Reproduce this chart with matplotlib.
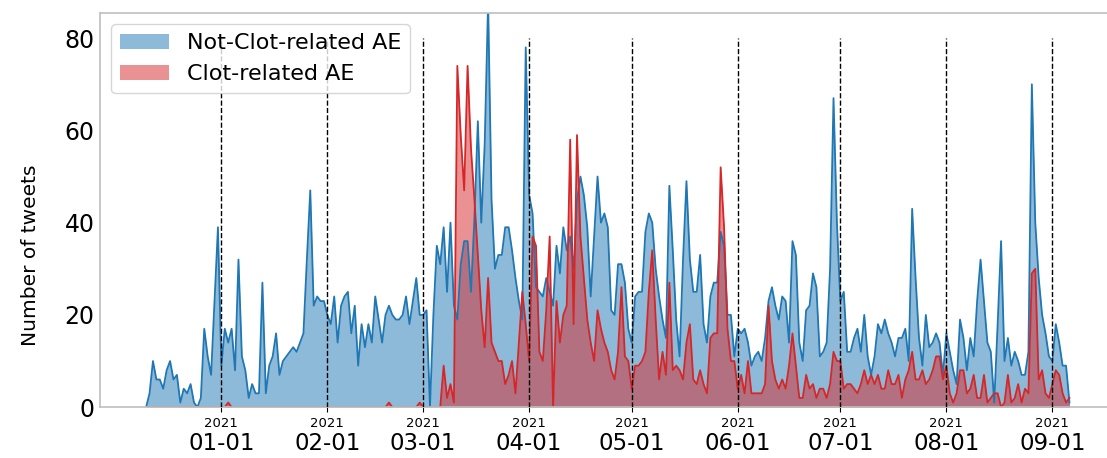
import numpy as np
import matplotlib
matplotlib.use('Agg')
import matplotlib.pyplot as plt
import matplotlib.dates as mdates
from matplotlib.patches import Patch

# daily counts, starting 2020-12-10
start_day = '2020-12-10'

not_clot = [0, 3, 10, 6, 6, 4, 8, 10, 6, 7,
            1, 4, 3, 5, 1, 0, 2, 17, 11, 7,
            23, 39, 9, 17, 14, 17, 8, 32, 11, 8,
            2, 5, 3, 3, 27, 3, 9, 11, 16, 7,
            10, 11, 12, 13, 12, 14, 16, 32, 47, 22,
            24, 23, 23, 20, 18, 24, 14, 22, 24, 25,
            16, 22, 9, 18, 13, 18, 14, 24, 19, 14,
            20, 22, 20, 19, 19, 20, 24, 18, 23, 28,
            20, 20, 21, 0, 20, 35, 31, 39, 25, 40,
            22, 19, 31, 36, 36, 25, 41, 62, 40, 57,
            88, 45, 30, 33, 33, 39, 39, 34, 28, 23,
            19, 78, 46, 42, 26, 25, 24, 28, 25, 22,
            35, 29, 39, 34, 37, 30, 45, 50, 46, 39,
            24, 37, 50, 40, 42, 39, 21, 20, 31, 31,
            27, 17, 14, 24, 25, 25, 38, 42, 40, 30,
            24, 19, 15, 48, 34, 19, 11, 32, 49, 32,
            25, 25, 33, 18, 14, 24, 27, 27, 38, 35,
            20, 20, 11, 17, 16, 17, 14, 9, 11, 12,
            10, 15, 23, 26, 22, 19, 24, 23, 14, 36,
            33, 14, 10, 21, 22, 29, 26, 11, 12, 14,
            30, 67, 40, 23, 25, 12, 12, 15, 17, 12,
            20, 11, 7, 11, 18, 16, 19, 16, 14, 11,
            15, 15, 17, 10, 43, 28, 15, 9, 20, 13,
            14, 16, 14, 7, 16, 12, 8, 5, 19, 15,
            8, 15, 11, 23, 32, 23, 14, 12, 1, 18,
            36, 10, 15, 9, 12, 10, 7, 7, 12, 70,
            40, 28, 20, 16, 11, 10, 18, 14, 9, 9, 1]

clot = [0, 0, 0, 0, 0, 0, 0, 0, 0, 0,
        0, 0, 0, 0, 0, 0, 0, 0, 0, 0,
        0, 0, 0, 0, 1, 0, 0, 0, 0, 0,
        0, 0, 0, 0, 0, 0, 0, 0, 0, 0,
        0, 0, 0, 0, 0, 0, 0, 0, 0, 0,
        0, 0, 0, 0, 0, 0, 0, 0, 0, 0,
        0, 0, 0, 0, 0, 0, 0, 0, 0, 0,
        0, 1, 0, 0, 0, 0, 0, 0, 0, 0,
        1, 0, 0, 0, 0, 0, 0, 9, 2, 5,
        1, 74, 59, 47, 74, 56, 45, 33, 21, 13,
        28, 14, 12, 10, 10, 5, 7, 10, 3, 14,
        25, 18, 10, 37, 35, 12, 10, 21, 37, 0,
        23, 14, 20, 22, 58, 18, 59, 37, 28, 19,
        14, 10, 21, 17, 14, 12, 8, 6, 12, 26,
        11, 10, 4, 9, 9, 10, 12, 25, 34, 19,
        6, 12, 7, 27, 8, 9, 8, 6, 14, 18,
        6, 5, 8, 5, 3, 15, 16, 16, 52, 39,
        17, 10, 10, 4, 7, 3, 10, 3, 3, 3,
        3, 5, 22, 10, 6, 4, 6, 4, 9, 16,
        9, 2, 2, 7, 4, 5, 2, 4, 4, 2,
        5, 12, 10, 10, 4, 5, 5, 4, 3, 5,
        8, 5, 7, 5, 7, 4, 4, 8, 5, 5,
        7, 2, 6, 8, 12, 6, 6, 8, 5, 6,
        8, 11, 11, 6, 9, 3, 1, 3, 8, 8,
        3, 4, 7, 2, 2, 7, 1, 2, 3, 3,
        0, 1, 7, 1, 2, 5, 1, 4, 3, 29,
        30, 6, 8, 3, 2, 5, 8, 7, 3, 1, 2]

month_starts = ['2021-01-01', '2021-02-01', '2021-03-01', '2021-04-01', '2021-05-01',
                '2021-06-01', '2021-07-01', '2021-08-01', '2021-09-01']
year_labels = ['2021'] * len(month_starts)
date_labels = ['01-01', '02-01', '03-01', '04-01', '05-01', '06-01', '07-01', '08-01', '09-01']

blue = '#1f77b4'
red = '#d62728'

days = np.arange(np.datetime64(start_day), np.datetime64(start_day) + len(not_clot))
x = mdates.date2num(days)
mx = mdates.date2num(np.array(month_starts, dtype='datetime64[D]'))

fig = plt.figure(figsize=(11.07, 4.58), dpi=100)
ax = fig.add_axes([0.0903, 0.111, 0.9175, 0.860])

ax.plot(x, not_clot, color=blue, lw=1.3)
ax.fill_between(x, 0, not_clot, color=blue, alpha=0.5, lw=0)
ax.plot(x, clot, color=red, lw=1.3)
ax.fill_between(x, 0, clot, color=red, alpha=0.5, lw=0)

ax.vlines(mx, 0, 80, colors='k', linestyles='--', lw=1, zorder=5)

ax.set_xlim(x[0] - 13.5, x[-1] + 13.5)
ax.set_ylim(0, 85.4)
ax.set_yticks([0, 20, 40, 60, 80])
ax.tick_params(axis='y', labelsize=17, length=0, pad=4)

# two-line tick labels: small year on top (minor), date below (major)
ax.xaxis.remove_overlapping_locs = False
ax.set_xticks(mx)
ax.set_xticklabels(date_labels, fontsize=16.5)
ax.tick_params(axis='x', which='major', pad=14.5, length=3.5)
ax.set_xticks(mx, minor=True)
ax.set_xticklabels(year_labels, minor=True, fontsize=9.5)
ax.tick_params(axis='x', which='minor', length=0, pad=7)

for s in ax.spines.values():
    s.set_color('0.75')
    s.set_linewidth(1.2)

ax.set_ylabel('Number of tweets', fontsize=14.5)
ax.yaxis.set_label_coords(-0.059, 0.386)

handles = [Patch(facecolor=blue, alpha=0.5), Patch(facecolor=red, alpha=0.5)]
ax.legend(handles, ['Not-Clot-related AE', 'Clot-related AE'], loc='upper left',
          fontsize=16, handlelength=2.2)

fig.savefig('out.png', dpi=100)
